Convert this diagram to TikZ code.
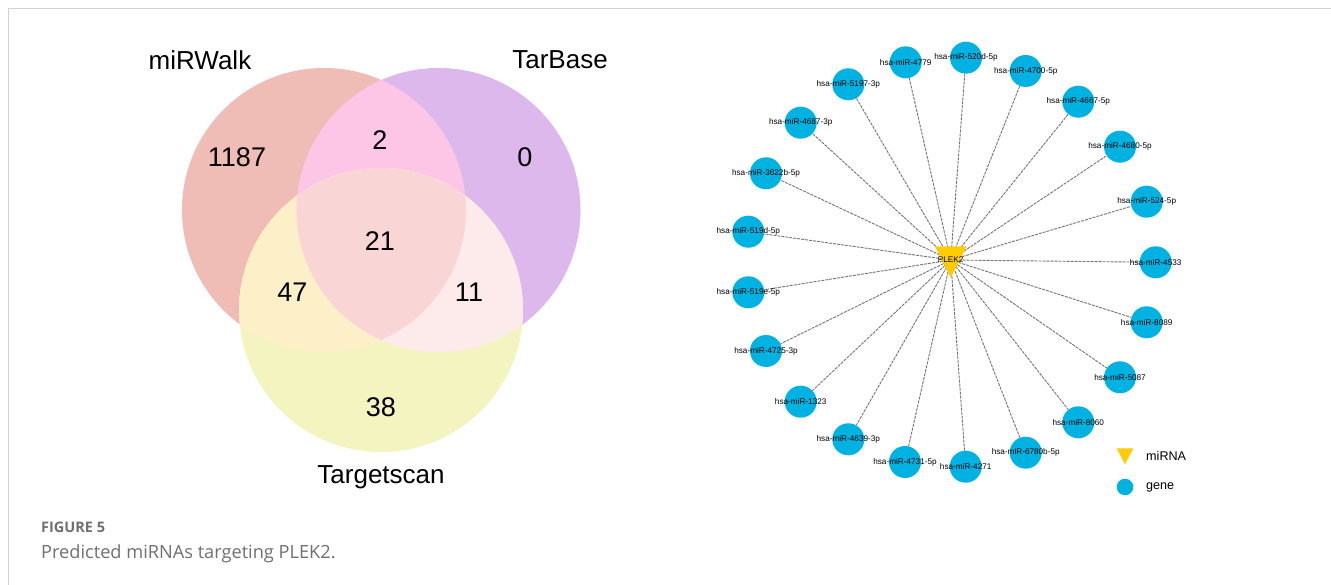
\documentclass[tikz,border=0pt]{standalone}
\usepackage{fontspec}
\setmainfont{Liberation Sans}
\newfontfamily\capfont{Open Sans}
\usetikzlibrary{backgrounds}

% Venn region colours
\definecolor{colA}{HTML}{F0BCB6}
\definecolor{colB}{HTML}{DCB8EC}
\definecolor{colC}{HTML}{F4F4C0}
\definecolor{colAB}{HTML}{FDC5E6}
\definecolor{colAC}{HTML}{FDEFC8}
\definecolor{colBC}{HTML}{FDEBEC}
\definecolor{colABC}{HTML}{F9D5D5}
% network colours
\definecolor{geneblue}{HTML}{00B2E2}
\definecolor{mirgold}{HTML}{FFCB05}
\definecolor{edgegray}{HTML}{747474}
\definecolor{framegray}{HTML}{D2D2D2}
\definecolor{capgray}{HTML}{707070}

\tikzset{
  setlabel/.style={inner sep=0pt, font=\fontsize{26}{30}\selectfont},
  count/.style={inner sep=0pt, font=\fontsize{27}{30}\selectfont},
  gene/.style={circle, fill=geneblue, minimum size=32pt, inner sep=0pt},
  genelabel/.style={inner sep=0pt, font=\fontsize{8.2}{9}\selectfont},
  edge/.style={draw=edgegray, line width=0.9pt, dash pattern=on 3pt off 1pt},
  legendtext/.style={anchor=west, inner sep=0pt, font=\fontsize{12.6}{14}\selectfont},
}

\begin{document}
\begin{tikzpicture}[x=1pt, y=-1pt]
\useasboundingbox (0,0) rectangle (1331,585);
\begin{scope}[on background layer]
  \fill[white] (0,0) rectangle (1331,585);
\end{scope}

% card frame (top and left edges)
\draw[framegray, line width=1.5pt] (8.5,585) -- (8.5,8.5) -- (1331,8.5);

% ---------- Venn diagram ----------
\def\circA{(324,210) circle[radius=142pt]}
\def\circB{(438.5,210) circle[radius=142pt]}
\def\circC{(381,310) circle[radius=142pt]}
\fill[colA] \circA;
\fill[colB] \circB;
\fill[colC] \circC;
\begin{scope} \clip \circA; \fill[colAB] \circB; \end{scope}
\begin{scope} \clip \circA; \fill[colAC] \circC; \end{scope}
\begin{scope} \clip \circB; \fill[colBC] \circC; \end{scope}
\begin{scope} \clip \circA; \clip \circB; \fill[colABC] \circC; \end{scope}

\node[setlabel] (mirwalk) at (200,60) {miRWalk};
\node[setlabel] (tarbase) at (560,60) {TarBase};
\node[setlabel] (targetscan) at (381,477) {Targetscan};

\node[count] (nA)   at (237,157) {1187};
\node[count] (nAB)  at (380,140) {2};
\node[count] (nB)   at (525,157) {0};
\node[count] (nABC) at (380,241) {21};
\node[count] (nAC)  at (292.5,292) {47};
\node[count] (nBC)  at (469,292) {11};
\node[count] (nC)   at (381,407.5) {38};

% caption
\node[anchor=west, inner sep=0pt, text=capgray,
      font=\capfont\bfseries\fontsize{14.5}{16}\selectfont] (figno) at (41,527) {FIGURE 5};
\node[anchor=west, inner sep=0pt, text=capgray,
      font=\capfont\fontsize{18.2}{21}\selectfont] (caption) at (41,554) {Predicted miRNAs targeting PLEK2.};

% ---------- miRNA network ----------
\foreach \x/\y/\t [count=\i] in {
  905.7/62.3/4779, 966/57.7/520d-5p, 1025.7/71/4700-5p, 1078.3/101.7/4667-5p,
  1120/146.7/4680-5p, 1146.7/201.7/524-5p, 1155.7/262.3/4533, 1146.7/322.3/8089,
  1120/377.3/5087, 1078.3/422.3/8060, 1025.7/452.7/6780b-5p, 965.7/466.7/4271,
  905/462/4731-5p, 848.3/439.3/4639-3p, 800.7/401.7/1323, 766/351/4725-3p,
  748.3/292.3/519e-5p, 748.3/231.7/519d-5p, 766/173.3/3622b-5p, 800.7/122.7/4687-3p,
  848.3/84.3/5197-3p}
  \node[gene, label={[genelabel]center:hsa-miR-\t}] (g\i) at (\x,\y) {};

% PLEK2 hub
\fill[mirgold] (935,246.3) -- (966.7,246.3) -- (950.7,277.7) -- cycle;
\node[genelabel] (plek) at (950.7,260) {PLEK2};

% dashed links, kept under the nodes
\begin{scope}[on background layer]
  \foreach \i in {1,...,21}
    \draw[edge] (plek.center) -- (g\i);
\end{scope}

% legend
\fill[mirgold] (1116.7,448.3) -- (1133.3,448.3) -- (1125,464.3) -- cycle;
\node[legendtext] (legmir) at (1146,456) {miRNA};
\node[gene, minimum size=16.6pt] (leggene) at (1125,487) {};
\node[legendtext] (leggenetext) at (1146,487) {gene};
\end{tikzpicture}
\end{document}
